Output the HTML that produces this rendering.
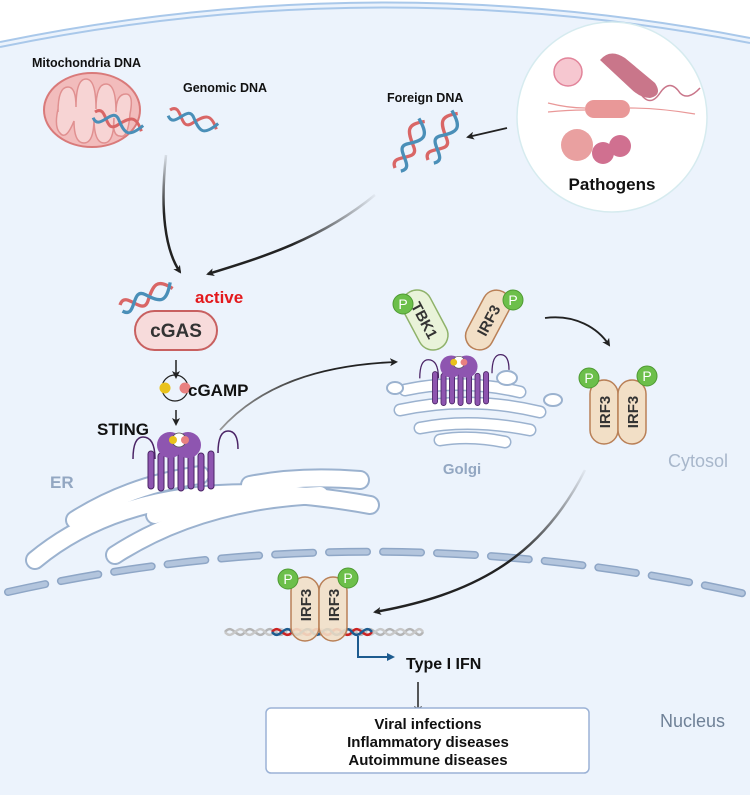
<!DOCTYPE html>
<html><head><meta charset="utf-8"><style>
html,body{margin:0;padding:0;background:#fff}
svg{display:block}
text{font-family:"Liberation Sans",sans-serif}
</style></head><body>
<svg width="750" height="795" viewBox="0 0 750 795" xmlns="http://www.w3.org/2000/svg">
<defs>
<marker id="ah" markerWidth="8" markerHeight="8" refX="6" refY="4" orient="auto" markerUnits="userSpaceOnUse"><path d="M0,0 L8,4 L0,8 L2,4 z" fill="#222"/></marker>
<marker id="ab" markerWidth="8" markerHeight="8" refX="6" refY="4" orient="auto" markerUnits="userSpaceOnUse"><path d="M0,0 L8,4 L0,8 z" fill="#1d5b8f"/></marker>
<linearGradient id="g1" x1="0" y1="0" x2="0" y2="1"><stop offset="0" stop-color="#222" stop-opacity="0.1"/><stop offset="0.5" stop-color="#222"/></linearGradient>
<linearGradient id="g2" x1="1" y1="0" x2="0" y2="0"><stop offset="0" stop-color="#222" stop-opacity="0.05"/><stop offset="0.5" stop-color="#222"/></linearGradient>
<linearGradient id="g3" x1="0" y1="0" x2="1" y2="0"><stop offset="0" stop-color="#999"/><stop offset="0.6" stop-color="#222"/></linearGradient>
<linearGradient id="g4" x1="1" y1="0" x2="0" y2="1"><stop offset="0" stop-color="#222" stop-opacity="0.05"/><stop offset="0.5" stop-color="#222"/></linearGradient>
<g id="dna"><path d="M0,0 C10,-12 15,18 25,6 S40,-10 50,4" fill="none" stroke="#d96666" stroke-width="3"/><path d="M0,6 C10,18 15,-12 25,0 S40,14 50,-2" fill="none" stroke="#4a8fb8" stroke-width="3"/></g>
<g id="pill"><rect x="-14" y="-32" width="28" height="64" rx="14" fill="#f2dfc6" stroke="#b98057" stroke-width="1.5"/></g>
<g id="pp"><circle r="10" fill="#6cbf4a" stroke="#4e9a33"/><text y="5" text-anchor="middle" font-size="14" fill="#fff">P</text></g>
<g id="sting">
<path d="M-45,4 q0,-22 10,-22 q12,0 12,22 M40,-2 q0,-22 10,-22 q10,0 10,18" fill="none" stroke="#4b2466" stroke-width="1.5"/>
<g fill="#8e55b0" stroke="#4b2466" stroke-width="1">
<rect x="-30" y="-4" width="6" height="38" rx="3"/><rect x="-20" y="-2" width="6" height="38" rx="3"/><rect x="-10" y="-4" width="6" height="38" rx="3"/><rect x="0" y="-2" width="6" height="38" rx="3"/><rect x="10" y="-4" width="6" height="38" rx="3"/><rect x="20" y="-2" width="6" height="38" rx="3"/><rect x="30" y="-4" width="6" height="38" rx="3"/>
</g>
<circle cx="-8" cy="-10" r="13" fill="#8e55b0"/><circle cx="10" cy="-10" r="13" fill="#8e55b0"/>
<circle cx="1" cy="-15" r="7" fill="#fff" stroke="#555" stroke-width="0.8"/>
<circle cx="-5" cy="-15" r="4" fill="#e9c21c"/><circle cx="7" cy="-15" r="4" fill="#e88080"/>
</g>
</defs>
<!-- cell -->
<path d="M0,42 Q375,-35 750,38 L750,795 L0,795 Z" fill="#ecf3fc"/>
<path d="M0,42 Q375,-35 750,38" fill="none" stroke="#a9c8ea" stroke-width="2"/>
<path d="M0,47 Q375,-30 750,43" fill="none" stroke="#a9c8ea" stroke-width="2"/>

<!-- mitochondria -->
<ellipse cx="92" cy="110" rx="48" ry="37" fill="#f2bcbc" stroke="#d97a7a" stroke-width="2"/>
<path d="M58,112 q0,-25 10,-25 q8,0 8,20 q0,-28 10,-28 q10,0 10,30 q0,-25 10,-25 q10,0 10,28 q0,-18 10,-18 q8,0 4,20 q-2,25 -10,22 q-8,0 -6,-18 q0,25 -10,25 q-10,0 -10,-25 q0,25 -10,25 q-10,0 -10,-22 q-8,20 -14,12 q-6,-6 -2,-24z" fill="#f7d4d4" stroke="#e09090" stroke-width="1.5"/>
<text x="32" y="67" font-size="12.5" font-weight="bold" fill="#111">Mitochondria DNA</text>
<text x="183" y="92" font-size="12.5" font-weight="bold" fill="#111">Genomic DNA</text>
<use href="#dna" transform="translate(95,112) rotate(18)"/>
<use href="#dna" transform="translate(170,110) rotate(18)"/>

<path d="M166,155 C160,210 165,250 180,272" fill="none" stroke="url(#g1)" stroke-width="2.5" marker-end="url(#ah)"/>
<path d="M375,195 C320,240 260,258 208,274" fill="none" stroke="url(#g2)" stroke-width="2.5" marker-end="url(#ah)"/>

<text x="387" y="102" font-size="12.5" font-weight="bold" fill="#111">Foreign DNA</text>
<use href="#dna" transform="translate(395,168) rotate(-62) scale(1.1)"/>
<use href="#dna" transform="translate(428,160) rotate(-62) scale(1.1)"/>
<line x1="507" y1="128" x2="468" y2="137" stroke="#222" stroke-width="1.8" marker-end="url(#ah)"/>
<circle cx="612" cy="117" r="95" fill="#fff" stroke="#d6ebef" stroke-width="1.5"/>
<circle cx="568" cy="72" r="14" fill="#f6c7d0" stroke="#e2849a" stroke-width="1.5"/>
<path d="M600,60 q10,-12 25,-2 l30,25 q8,12 -5,15 q-10,0 -20,-10 z" fill="#c9768a"/>
<path d="M640,93 q10,15 20,0 q10,-15 20,0 q8,8 20,-5" fill="none" stroke="#c9768a" stroke-width="1.5"/>
<rect x="585" y="100" width="45" height="18" rx="9" fill="#e99898"/>
<path d="M548,103 q20,5 37,5 M548,112 q20,-2 37,-2 M630,108 q30,0 65,6" fill="none" stroke="#e99898" stroke-width="1.2"/>
<circle cx="577" cy="145" r="16" fill="#e9a0a0"/>
<circle cx="603" cy="153" r="11" fill="#d07090"/><circle cx="620" cy="146" r="11" fill="#d07090"/>
<text x="612" y="190" font-size="17" font-weight="bold" text-anchor="middle" fill="#111">Pathogens</text>

<!-- cGAS -->
<use href="#dna" transform="translate(120,305) rotate(-22) scale(1.1)"/>
<rect x="135" y="311" width="82" height="39" rx="19.5" fill="#f7dbdb" stroke="#c86060" stroke-width="2"/>
<text x="176" y="337" font-size="19" font-weight="bold" text-anchor="middle" fill="#333">cGAS</text>
<text x="195" y="303" font-size="17" font-weight="bold" fill="#e3191c">active</text>
<line x1="176" y1="360" x2="176" y2="377" stroke="#222" stroke-width="1.5" marker-end="url(#ah)"/>
<circle cx="175" cy="388" r="13" fill="none" stroke="#222" stroke-width="1.2"/>
<circle cx="165" cy="388" r="5.5" fill="#e9c21c"/><circle cx="185" cy="388" r="5.5" fill="#e88080"/>
<text x="188" y="396" font-size="17" font-weight="bold" fill="#111">cGAMP</text>
<line x1="176" y1="410" x2="176" y2="424" stroke="#222" stroke-width="1.5" marker-end="url(#ah)"/>
<text x="97" y="435" font-size="17" font-weight="bold" fill="#111">STING</text>

<!-- ER -->
<g fill="none" stroke-linecap="round">
<g stroke="#9bb2cf" stroke-width="20">
<path d="M35,560 Q150,465 370,505"/><path d="M75,520 Q130,485 200,475"/><path d="M115,555 Q200,500 320,495"/><path d="M155,515 Q200,500 240,500"/><path d="M250,485 Q300,475 360,480"/>
</g>
<g stroke="#fff" stroke-width="16">
<path d="M35,560 Q150,465 370,505"/><path d="M75,520 Q130,485 200,475"/><path d="M115,555 Q200,500 320,495"/><path d="M155,515 Q200,500 240,500"/><path d="M250,485 Q300,475 360,480"/>
</g>
</g>
<text x="50" y="488" font-size="17" font-weight="bold" fill="#93a7c2">ER</text>

<use href="#sting" transform="translate(178,455)"/>

<path d="M220,430 C260,385 320,365 396,362" fill="none" stroke="url(#g3)" stroke-width="1.8" marker-end="url(#ah)"/>

<!-- Golgi -->
<g fill="none" stroke-linecap="round">
<g stroke="#9bb2cf" stroke-width="13"><path d="M405,390 Q460,378 520,392"/><path d="M400,410 Q470,395 540,412"/><path d="M420,428 Q470,418 530,430"/><path d="M440,440 Q470,435 505,442"/></g>
<g stroke="#fff" stroke-width="10"><path d="M405,390 Q460,378 520,392"/><path d="M400,410 Q470,395 540,412"/><path d="M420,428 Q470,418 530,430"/><path d="M440,440 Q470,435 505,442"/></g>
</g>
<ellipse cx="507" cy="378" rx="10" ry="7" fill="#fff" stroke="#9bb2cf" stroke-width="2"/>
<ellipse cx="395" cy="388" rx="8" ry="6" fill="#fff" stroke="#9bb2cf" stroke-width="2"/>
<ellipse cx="553" cy="400" rx="9" ry="6" fill="#fff" stroke="#9bb2cf" stroke-width="2"/>
<use href="#sting" transform="translate(458,375) scale(0.85)"/>
<g transform="translate(425,320) rotate(-28)"><rect x="-15" y="-32" width="30" height="64" rx="15" fill="#e9f3d9" stroke="#8fb26a" stroke-width="1.5"/><text transform="rotate(90)" x="0" y="6" text-anchor="middle" font-size="15" font-weight="bold" fill="#333">TBK1</text></g>
<g transform="translate(488,320) rotate(28)"><use href="#pill"/><text transform="rotate(-90)" x="0" y="6" text-anchor="middle" font-size="15" font-weight="bold" fill="#333">IRF3</text></g>
<use href="#pp" transform="translate(403,304)"/><use href="#pp" transform="translate(513,300)"/>
<text x="462" y="474" font-size="15" font-weight="bold" text-anchor="middle" fill="#93a7c2">Golgi</text>

<path d="M545,318 C575,314 598,328 609,345" fill="none" stroke="#222" stroke-width="1.8" marker-end="url(#ah)"/>
<g transform="translate(604,412)"><use href="#pill"/><text transform="rotate(-90)" x="0" y="6" text-anchor="middle" font-size="15" font-weight="bold" fill="#333">IRF3</text></g>
<g transform="translate(632,412)"><use href="#pill"/><text transform="rotate(-90)" x="0" y="6" text-anchor="middle" font-size="15" font-weight="bold" fill="#333">IRF3</text></g>
<use href="#pp" transform="translate(589,378)"/><use href="#pp" transform="translate(647,376)"/>
<text x="668" y="467" font-size="18" fill="#a8b7cb">Cytosol</text>

<!-- nuclear envelope -->
<path d="M8,592 Q375,510 750,595" fill="none" stroke="#8ea6c6" stroke-width="8" stroke-dasharray="38,16" stroke-linecap="round"/>
<path d="M8,592 Q375,510 750,595" fill="none" stroke="#b3c5dd" stroke-width="5" stroke-dasharray="38,16" stroke-linecap="round"/>

<path d="M585,470 C540,560 470,595 375,612" fill="none" stroke="url(#g4)" stroke-width="2.5" marker-end="url(#ah)"/>

<!-- nucleus DNA & IRF3 -->
<path d="M225,632 c8,-10 12,10 20,0 s12,10 20,0 s12,10 20,0 s12,10 20,0 s12,10 20,0 s12,10 20,0 s12,10 20,0 s12,10 20,0 s12,10 20,0 s12,10 18,0" fill="none" stroke="#b5b5b5" stroke-width="2.5"/>
<path d="M225,632 c8,10 12,-10 20,0 s12,-10 20,0 s12,-10 20,0 s12,-10 20,0 s12,-10 20,0 s12,-10 20,0 s12,-10 20,0 s12,-10 20,0 s12,-10 20,0 s12,-10 18,0" fill="none" stroke="#c8c8c8" stroke-width="2.5"/>
<path d="M272,632 c8,-10 12,10 20,0 s12,10 20,0 s12,10 20,0 s12,10 20,0 s12,10 20,0" fill="none" stroke="#cc2222" stroke-width="2.5"/>
<path d="M272,632 c8,10 12,-10 20,0 s12,-10 20,0 s12,-10 20,0 s12,-10 20,0 s12,-10 20,0" fill="none" stroke="#1d5b8f" stroke-width="2.5"/>
<g transform="translate(305,605)"><rect x="-14" y="-28" width="28" height="64" rx="14" fill="#f2dfc6" fill-opacity="0.9" stroke="#b98057" stroke-width="1.5"/><text transform="rotate(-90)" x="0" y="6" text-anchor="middle" font-size="15" font-weight="bold" fill="#333">IRF3</text></g>
<g transform="translate(333,605)"><rect x="-14" y="-28" width="28" height="64" rx="14" fill="#f2dfc6" fill-opacity="0.9" stroke="#b98057" stroke-width="1.5"/><text transform="rotate(-90)" x="0" y="6" text-anchor="middle" font-size="15" font-weight="bold" fill="#333">IRF3</text></g>
<use href="#pp" transform="translate(288,579)"/><use href="#pp" transform="translate(348,578)"/>
<path d="M358,636 L358,657 L393,657" fill="none" stroke="#1d5b8f" stroke-width="2" marker-end="url(#ab)"/>
<text x="406" y="669" font-size="16" font-weight="bold" fill="#111">Type I IFN</text>
<line x1="418" y1="682" x2="418" y2="712" stroke="#222" stroke-width="1.5" marker-end="url(#ah)"/>
<rect x="266" y="708" width="323" height="65" rx="5" fill="#fff" stroke="#9bb2d6" stroke-width="1.5"/>
<text x="428" y="729" font-size="15" font-weight="bold" text-anchor="middle" fill="#111">Viral infections</text>
<text x="428" y="747" font-size="15" font-weight="bold" text-anchor="middle" fill="#111">Inflammatory diseases</text>
<text x="428" y="765" font-size="15" font-weight="bold" text-anchor="middle" fill="#111">Autoimmune diseases</text>
<text x="660" y="727" font-size="18" fill="#6f8197">Nucleus</text>
</svg>
</body></html>
